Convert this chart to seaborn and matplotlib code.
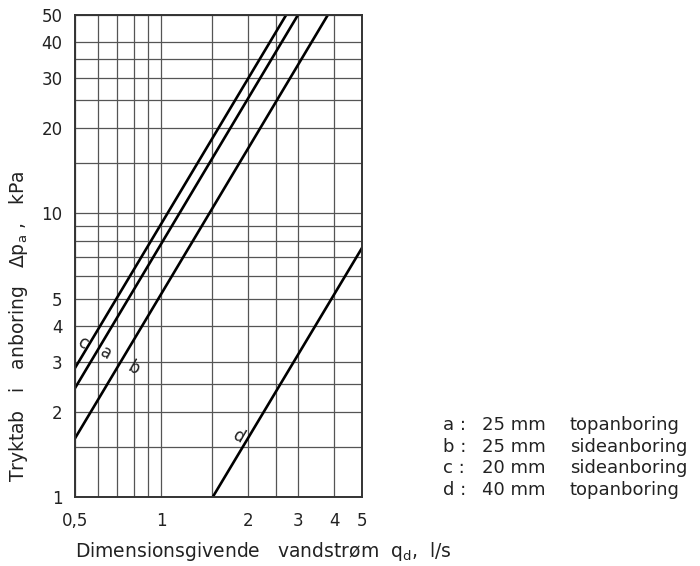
import pandas as pd
import matplotlib
matplotlib.use("Agg")
import matplotlib.pyplot as plt
import seaborn as sns

# Line end points (log-log, straight lines)
q_a = [0.5, 2.99]
dp_a = [2.42, 50]
q_b = [0.5, 3.80]
dp_b = [1.61, 50]
q_c = [0.5, 2.72]
dp_c = [2.85, 50]
q_d = [1.51, 5.0]
dp_d = [1.0, 7.55]

curve_names = ["a", "b", "c", "d"]
label_q = [0.641, 0.797, 0.533, 1.85]
label_dp = [3.22, 2.85, 3.49, 1.64]

legend_letters = ["a :", "b :", "c :", "d :"]
legend_sizes = ["25 mm", "25 mm", "20 mm", "40 mm"]
legend_types = ["topanboring", "sideanboring", "sideanboring", "topanboring"]

x_major = [0.5, 1, 2, 3, 4, 5]
x_major_labels = ["0,5", "1", "2", "3", "4", "5"]
x_minor = [0.6, 0.7, 0.8, 0.9, 1.5, 2.5]
y_major = [1, 2, 3, 4, 5, 10, 20, 30, 40, 50]
y_major_labels = ["1", "2", "3", "4", "5", "10", "20", "30", "40", "50"]
y_minor = [1.5, 2.5, 6, 7, 8, 9, 15, 25, 35]

# long-form table for seaborn
df = pd.concat([
    pd.DataFrame({"q": q_a, "dp": dp_a, "curve": "a"}),
    pd.DataFrame({"q": q_b, "dp": dp_b, "curve": "b"}),
    pd.DataFrame({"q": q_c, "dp": dp_c, "curve": "c"}),
    pd.DataFrame({"q": q_d, "dp": dp_d, "curve": "d"}),
])

sns.set_style("white")
plt.rcParams["font.family"] = ["DejaVu Sans"]
plt.rcParams["mathtext.default"] = "regular"

W, H = 700, 566
fig = plt.figure(figsize=(7, 5.66), dpi=100)
ax = fig.add_axes([75 / W, 1 - 497 / H, 287 / W, 482 / H])

ax.set_xscale("log")
ax.set_yscale("log")

for name in curve_names:
    sub = df[df["curve"] == name]
    sns.lineplot(data=sub, x="q", y="dp", ax=ax, color="black", lw=1.9,
                 estimator=None, sort=False, legend=False)

ax.set_xlim(0.5, 5)
ax.set_ylim(1, 50)

ax.set_xticks(x_major)
ax.set_xticklabels(x_major_labels)
ax.set_xticks(x_minor, minor=True)
ax.set_yticks(y_major)
ax.set_yticklabels(y_major_labels)
ax.set_yticks(y_minor, minor=True)
ax.xaxis.set_minor_formatter(plt.NullFormatter())
ax.yaxis.set_minor_formatter(plt.NullFormatter())

ax.tick_params(which="both", length=0, labelsize=12, colors="#222222")
ax.tick_params(axis="x", pad=11)
ax.tick_params(axis="y", pad=9)

ax.grid(True, which="both", color="#555555", lw=0.9)
for s in ax.spines.values():
    s.set_color("#333333")
    s.set_linewidth(1.4)

ax.set_xlabel("")
ax.set_ylabel("")

# curve letters along the lines
for name, xq, yp in zip(curve_names, label_q, label_dp):
    ax.text(xq, yp, name, fontsize=12, rotation=-30, ha="center", va="center",
            color="#222222")

# axis titles
fig.text(19 / W, 1 - 326 / H, "Tryktab   i   anboring   Δp$_a$ ,   kPa",
         rotation=90, ha="center", va="center", fontsize=13.5, color="#222222")
fig.text(75 / W, 1 - 557 / H, "Dimensionsgivende   vandstrøm  q$_d$,  l/s",
         ha="left", va="baseline", fontsize=13.5, color="#222222")

# key to the curves
for i in range(4):
    y = 1 - (425 + 21.7 * i) / H
    fig.text(443 / W, y, legend_letters[i], ha="left", va="center", fontsize=13, color="#222222")
    fig.text(482 / W, y, legend_sizes[i], ha="left", va="center", fontsize=13, color="#222222")
    fig.text(570 / W, y, legend_types[i], ha="left", va="center", fontsize=13, color="#222222")

fig.savefig("out.png", dpi=100)
